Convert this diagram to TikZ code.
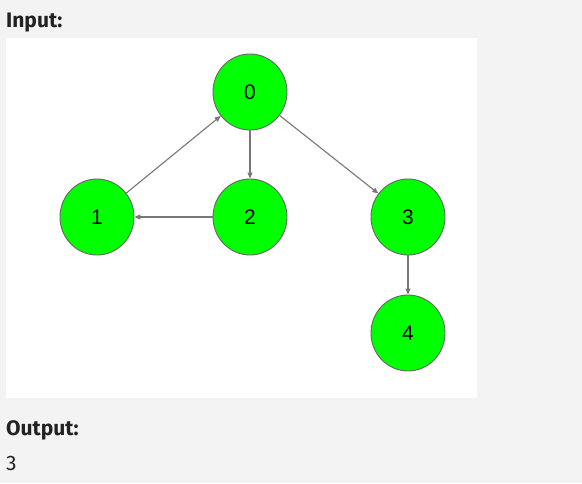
\documentclass[tikz,border=0pt]{standalone}
\usepackage{fontspec}
\setmainfont{Liberation Sans}
\newfontfamily\headfont{Fira Sans}
\usetikzlibrary{shapes.geometric,arrows.meta}
\definecolor{pagebg}{HTML}{F3F3F3}
\definecolor{nodegreen}{HTML}{00FF00}
\definecolor{edgegray}{HTML}{777777}
\definecolor{rimgray}{HTML}{666666}
\definecolor{headtext}{HTML}{222222}
\begin{document}
\begin{tikzpicture}[x=1pt,y=-1pt,
  vertex/.style={ellipse,draw=rimgray,line width=0.9pt,fill=nodegreen,
    minimum width=74pt,minimum height=76pt,inner sep=0pt,
    font=\fontsize{21}{21}\selectfont},
  edge/.style={draw=edgegray,line width=1.1pt,
    -{Triangle[length=6pt,width=5pt]}},
  heading/.style={anchor=base west,inner sep=0pt,text=headtext,
    font=\headfont\bfseries\fontsize{21}{21}\selectfont},
  plain/.style={anchor=base west,inner sep=0pt,text=headtext,
    font=\headfont\fontsize{21}{21}\selectfont}]
  % page and canvas
  \fill[pagebg] (0,0) rectangle (582,483);
  \useasboundingbox (0,0) rectangle (582,483);
  \fill[white] (6,38) rectangle (477,398);
  % labels
  \node[heading] (inlbl) at (6,27) {Input:};
  \node[heading] (outlbl) at (6,435) {Output:};
  \node[plain] (result) at (6,470) {3};
  % vertices
  \node[vertex] (n0) at (250,92) {0};
  \node[vertex] (n1) at (97,217) {1};
  \node[vertex] (n2) at (250,217) {2};
  \node[vertex] (n3) at (408,217) {3};
  \node[vertex] (n4) at (408,333) {4};
  % directed edges
  \draw[edge] (n1) -- (n0);
  \draw[edge] (n0) -- (n2);
  \draw[edge] (n2) -- (n1);
  \draw[edge] (n0) -- (n3);
  \draw[edge] (n3) -- (n4);
\end{tikzpicture}
\end{document}
